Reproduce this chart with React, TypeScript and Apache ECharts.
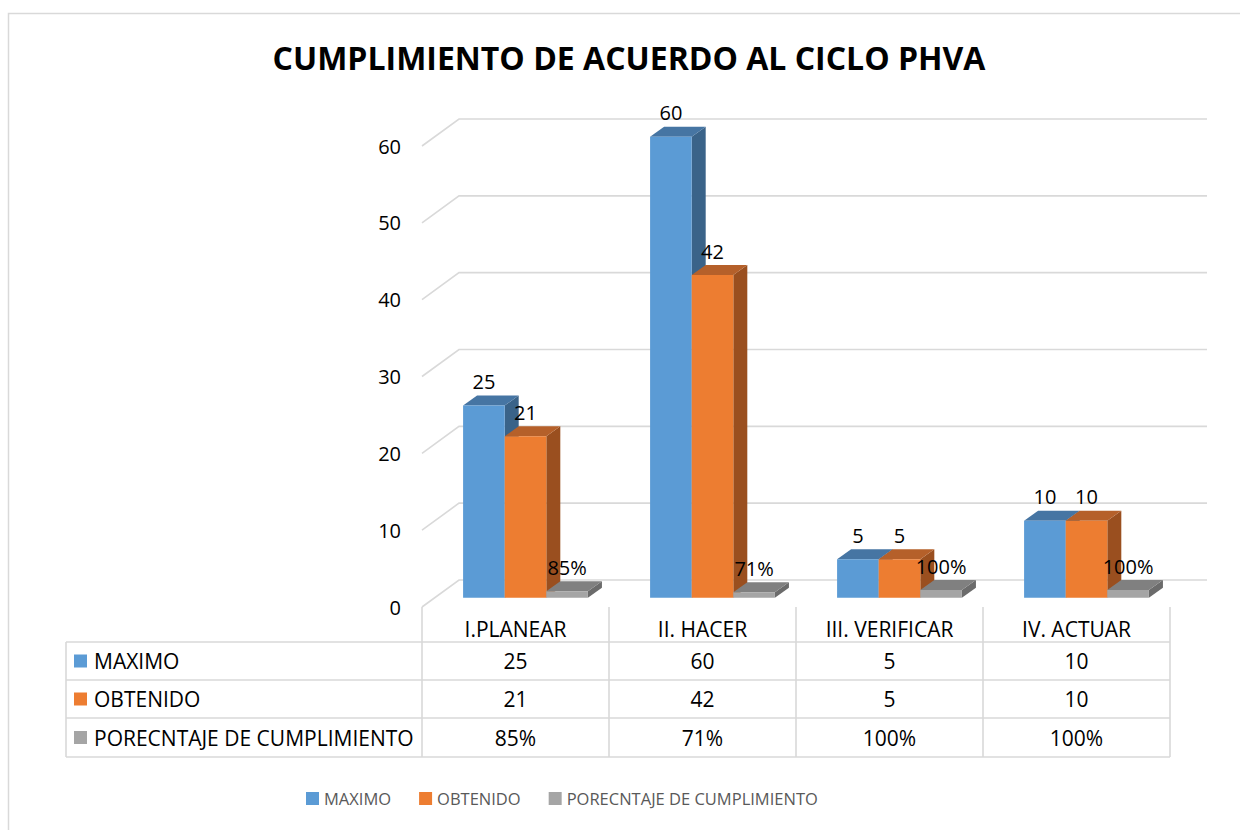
import React, { useEffect, useRef } from "react";
import * as echarts from "echarts";

const TITLE = "CUMPLIMIENTO DE ACUERDO AL CICLO PHVA";
const CATEGORIES = ["I.PLANEAR", "II. HACER", "III. VERIFICAR", "IV. ACTUAR"];
const MAXIMO = [25, 60, 5, 10];
const OBTENIDO = [21, 42, 5, 10];
const PORCENTAJE = [0.85, 0.71, 1, 1];
const SERIES_NAMES = ["MAXIMO", "OBTENIDO", "PORECNTAJE DE CUMPLIMIENTO"];
const Y_TICKS = [0, 10, 20, 30, 40, 50, 60];

const FONT = "'Open Sans', 'Noto Sans', sans-serif";
const COLORS = [
  { front: "#5B9BD5", top: "#4675A3", side: "#3A6389" },
  { front: "#ED7D31", top: "#B5602A", side: "#9A4F1F" },
  { front: "#A5A5A5", top: "#808080", side: "#6B6B6B" },
];
const GRID_COLOR = "#D9D9D9";

// layout
const GRID_LEFT = 422;
const GRID_TOP = 146;
const GRID_W = 748;
const GRID_H = 461;
const WALL_DX = 37;
const WALL_DY = -27;
const BAR_OFF_X = 10;
const BAR_OFF_Y = -9.3;
const BAR_DX = 14;
const BAR_DY = -10;
const BAR_FRAC = 0.2225;
const TABLE_LINES_Y = [642, 680, 718, 757];
const TABLE_LEFT = 66;
const HEADER_Y = 629;
const ROW_Y = [661, 699, 737.5];

const fmtNum = (v: number) => String(v);
const fmtPct = (v: number) => Math.round(v * 100) + "%";
const FORMATS = [fmtNum, fmtNum, fmtPct];
const SERIES_DATA = [MAXIMO, OBTENIDO, PORCENTAJE];

const makeBarRender = (k: number) => (params: any, api: any) => {
  const i = api.value(0);
  const v = api.value(1);
  const p0 = api.coord([i, 0]);
  const p1 = api.coord([i, v]);
  const band = api.size([1, 0])[0];
  const w = band * BAR_FRAC;
  const x0 = p0[0] + BAR_OFF_X - 1.5 * w + k * w;
  const x1 = x0 + w;
  const yb = p0[1] + BAR_OFF_Y;
  const yt = p1[1] + BAR_OFF_Y;
  const c = COLORS[k];
  return {
    type: "group",
    children: [
      {
        type: "polygon",
        shape: { points: [[x1, yb], [x1 + BAR_DX, yb + BAR_DY], [x1 + BAR_DX, yt + BAR_DY], [x1, yt]] },
        style: { fill: c.side },
      },
      {
        type: "polygon",
        shape: { points: [[x0, yt], [x1, yt], [x1 + BAR_DX, yt + BAR_DY], [x0 + BAR_DX, yt + BAR_DY]] },
        style: { fill: c.top },
      },
      {
        type: "rect",
        shape: { x: x0, y: yt, width: w, height: yb - yt },
        style: { fill: c.front },
      },
      {
        type: "text",
        x: (x0 + x1) / 2,
        y: yt - 24,
        z2: 10,
        style: {
          text: FORMATS[k](v),
          align: "center",
          verticalAlign: "middle",
          fontSize: 20,
          fontFamily: FONT,
          fill: "#000",
        },
      },
    ],
  };
};

const wallRender = (params: any, api: any) => {
  const v = api.value(1);
  const cs = params.coordSys;
  const y = api.coord([0, v])[1];
  return {
    type: "polyline",
    shape: {
      points: [
        [cs.x, y],
        [cs.x + WALL_DX, y + WALL_DY],
        [cs.x + cs.width + WALL_DX, y + WALL_DY],
      ],
    },
    style: { stroke: GRID_COLOR, lineWidth: 1.6, fill: null },
  };
};

const tableRender = (params: any, api: any) => {
  const i = api.value(0);
  const c = api.coord([i, 0]);
  const band = api.size([1, 0])[0];
  const xl = c[0] - band / 2;
  const xr = c[0] + band / 2;
  const bottom = TABLE_LINES_Y[TABLE_LINES_Y.length - 1];
  const children: any[] = [
    {
      type: "line",
      shape: { x1: xl, y1: c[1], x2: xl, y2: bottom },
      style: { stroke: GRID_COLOR, lineWidth: 1.6 },
    },
    {
      type: "text",
      x: c[0],
      y: HEADER_Y,
      style: {
        text: CATEGORIES[i],
        align: "center",
        verticalAlign: "middle",
        fontSize: 21,
        fontFamily: FONT,
        fill: "#000",
      },
    },
  ];
  SERIES_DATA.forEach((arr, k) => {
    children.push({
      type: "text",
      x: c[0],
      y: ROW_Y[k],
      style: {
        text: FORMATS[k](arr[i]),
        align: "center",
        verticalAlign: "middle",
        fontSize: 21,
        fontFamily: FONT,
        fill: "#000",
      },
    });
  });
  if (i === CATEGORIES.length - 1) {
    children.push({
      type: "line",
      shape: { x1: xr, y1: c[1], x2: xr, y2: bottom },
      style: { stroke: GRID_COLOR, lineWidth: 1.6 },
    });
  }
  return { type: "group", children };
};

export default function App() {
  const ref = useRef<HTMLDivElement>(null);
  useEffect(() => {
    if (!ref.current) return;
    const chart = echarts.init(ref.current, null, { renderer: "svg" });
    const graphics: any[] = [
      {
        type: "rect",
        shape: { x: 8.5, y: 13.5, width: 1240, height: 830 },
        style: { fill: null, stroke: GRID_COLOR, lineWidth: 1.5 },
        silent: true,
      },
      {
        type: "text",
        x: 629,
        y: 57,
        style: {
          text: TITLE,
          align: "center",
          verticalAlign: "middle",
          fontSize: 32,
          fontWeight: "bold",
          fontFamily: FONT,
          fill: "#000",
        },
      },
    ];
    const tableRight = GRID_LEFT + GRID_W;
    TABLE_LINES_Y.forEach((y) => {
      graphics.push({
        type: "line",
        shape: { x1: TABLE_LEFT, y1: y, x2: tableRight, y2: y },
        style: { stroke: GRID_COLOR, lineWidth: 1.6 },
      });
    });
    graphics.push({
      type: "line",
      shape: { x1: TABLE_LEFT, y1: TABLE_LINES_Y[0], x2: TABLE_LEFT, y2: TABLE_LINES_Y[TABLE_LINES_Y.length - 1] },
      style: { stroke: GRID_COLOR, lineWidth: 1.6 },
    });
    SERIES_NAMES.forEach((name, k) => {
      graphics.push({
        type: "rect",
        shape: { x: 74, y: ROW_Y[k] - 6.5, width: 13, height: 13 },
        style: { fill: COLORS[k].front },
      });
      graphics.push({
        type: "text",
        x: 94,
        y: ROW_Y[k],
        style: {
          text: name,
          align: "left",
          verticalAlign: "middle",
          fontSize: 21,
          fontFamily: FONT,
          fill: "#000",
        },
      });
    });

    const option: any = {
      animation: false,
      backgroundColor: "#fff",
      grid: { left: GRID_LEFT, top: GRID_TOP, width: GRID_W, height: GRID_H, containLabel: false },
      xAxis: {
        type: "category",
        data: CATEGORIES,
        axisLine: { show: false },
        axisTick: { show: false },
        axisLabel: { show: false },
        splitLine: { show: false },
      },
      yAxis: {
        type: "value",
        min: 0,
        max: 60,
        interval: 10,
        axisLine: { show: false },
        axisTick: { show: false },
        splitLine: { show: false },
        axisLabel: { fontSize: 20, fontFamily: FONT, color: "#000", margin: 21 },
      },
      legend: {
        data: SERIES_NAMES,
        left: 306,
        top: 790,
        padding: 0,
        itemWidth: 13,
        itemHeight: 13,
        itemGap: 28,
        icon: "rect",
        textStyle: { fontSize: 16.5, fontFamily: FONT, color: "#595959" },
      },
      graphic: graphics,
      series: [
        {
          type: "custom",
          name: "walls",
          renderItem: wallRender,
          data: Y_TICKS.map((v) => [0, v]),
          clip: false,
          silent: true,
          z: 1,
        },
        {
          type: "custom",
          name: "table",
          renderItem: tableRender,
          data: CATEGORIES.map((_, i) => [i, 0]),
          clip: false,
          silent: true,
          z: 1,
        },
        ...SERIES_NAMES.map((name, k) => ({
          type: "custom",
          name,
          renderItem: makeBarRender(k),
          data: SERIES_DATA[k].map((v, i) => [i, v]),
          itemStyle: { color: COLORS[k].front },
          clip: false,
          z: 2 + k,
        })),
      ],
    };
    chart.setOption(option);
    return () => chart.dispose();
  }, []);
  return (
    <div
      ref={ref}
      style={{ position: "absolute", left: 0, top: 0, width: 1240, height: 830 }}
    />
  );
}
